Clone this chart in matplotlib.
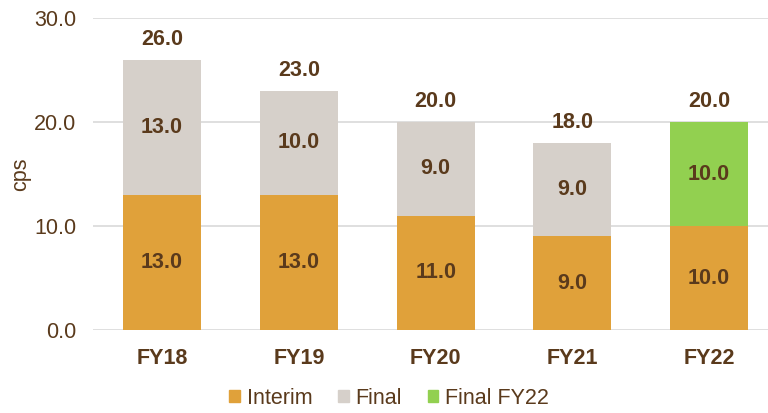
import matplotlib
matplotlib.use("Agg")
import matplotlib.pyplot as plt
from matplotlib.patches import Patch

categories = ["FY18", "FY19", "FY20", "FY21", "FY22"]
interim = [13.0, 13.0, 11.0, 9.0, 10.0]
final = [13.0, 10.0, 9.0, 9.0, 0.0]
final_fy22 = [0.0, 0.0, 0.0, 0.0, 10.0]
totals = [26.0, 23.0, 20.0, 18.0, 20.0]
yticks = [0.0, 10.0, 20.0, 30.0]

c_int = "#E0A13A"
c_fin = "#D6D0CA"
c_grn = "#92D050"
c_txt = "#5A3A1C"

plt.rcParams['font.family'] = ['Liberation Sans', 'DejaVu Sans']
FS = 15.5

fig = plt.figure(figsize=(7.68, 4.13), dpi=100)
ax = fig.add_axes([93/768, 1-330/413, 1-93/768, (330-18)/413])

x = list(range(len(categories)))
w = 0.57
ax.bar(x, interim, w, color=c_int, zorder=2)
ax.bar(x[:4], final[:4], w, bottom=interim[:4], color=c_fin, zorder=2)
ax.bar(x[4:], final_fy22[4:], w, bottom=interim[4:], color=c_grn, zorder=2)

for i in x:
    ax.text(i, interim[i]/2, f"{interim[i]:.1f}", ha="center", va="center",
            fontsize=FS, fontweight="bold", color=c_txt, zorder=3)
    top = final[i] if i < 4 else final_fy22[i]
    ax.text(i, interim[i] + top/2, f"{top:.1f}", ha="center", va="center",
            fontsize=FS, fontweight="bold", color=c_txt, zorder=3)
    ax.annotate(f"{totals[i]:.1f}", (i, totals[i]), xytext=(0, 14.5),
                textcoords="offset points", ha="center", va="center",
                fontsize=FS, fontweight="bold", color=c_txt, zorder=3)

ax.set_ylim(0, 30)
ax.set_xlim(-0.505, 4.43)
ax.set_yticks(yticks)
ax.set_yticklabels([f"{v:.1f}" for v in yticks], fontsize=FS, color=c_txt)
ax.set_xticks(x)
ax.set_xticklabels(categories, fontsize=FS, fontweight="bold", color=c_txt)
ax.tick_params(axis="y", length=0, pad=12)
ax.tick_params(axis="x", length=0, pad=13)
ax.yaxis.grid(True, color="#D9D9D9", linewidth=1.2, zorder=0)
ax.set_axisbelow(True)
for s in ax.spines.values():
    s.set_visible(False)
ax.set_ylabel("cps", fontsize=FS, color=c_txt, labelpad=2)

handles = [Patch(color=c_int, label="Interim"),
           Patch(color=c_fin, label="Final"),
           Patch(color=c_grn, label="Final FY22")]
leg = fig.legend(handles=handles, loc="center", bbox_to_anchor=(389/768, 1-398/413),
                 ncol=3, frameon=False, fontsize=FS, handlelength=0.5, handleheight=0.5,
                 handletextpad=0.3, columnspacing=1.2)
for t in leg.get_texts():
    t.set_color(c_txt)

fig.savefig("out.png", dpi=100)
